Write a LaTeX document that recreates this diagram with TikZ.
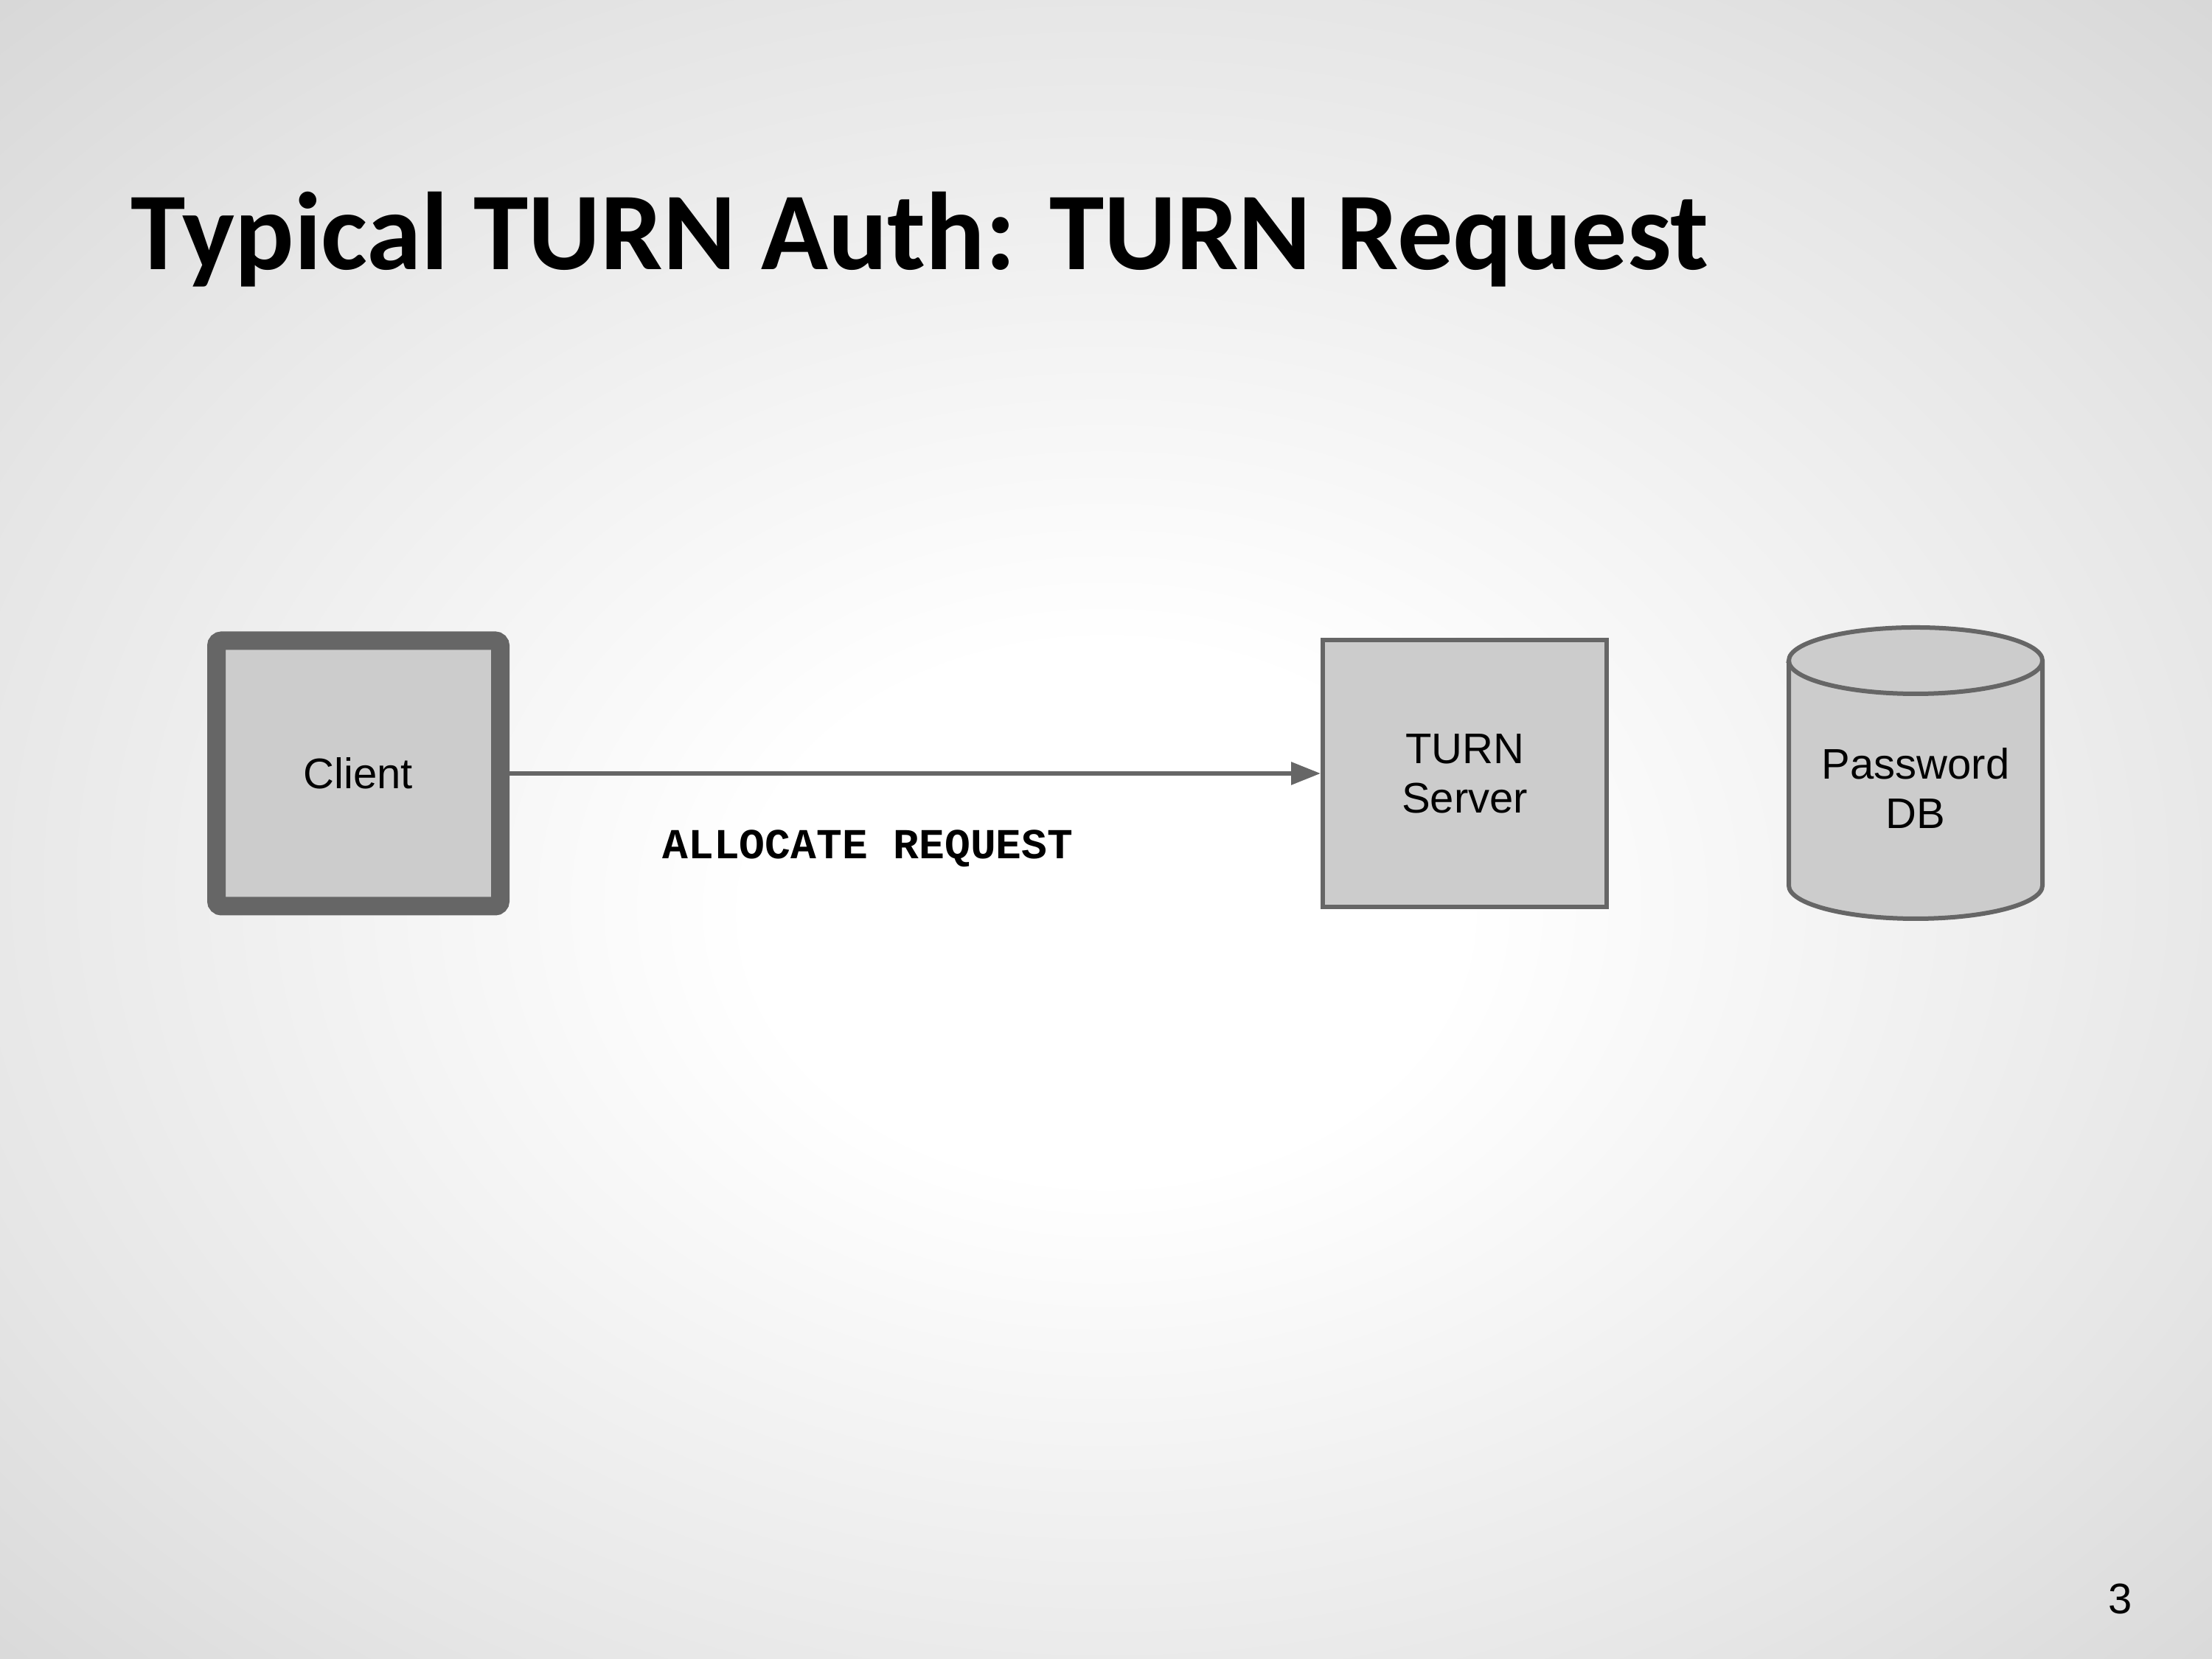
\documentclass[tikz,border=0pt]{standalone}
\usepackage{fontspec}
\setmainfont{Liberation Sans}
\newfontfamily\titlefont{Carlito}
\newfontfamily\codefont{Liberation Mono}
\usepackage{tikz}
\usetikzlibrary{positioning, arrows.meta}
\definecolor{boxfill}{HTML}{CCCCCC}
\definecolor{boxline}{HTML}{666666}
\pgfdeclareradialshading{slidebg}{\pgfpoint{0bp}{-3bp}}{color(0bp)=(white); color(8bp)=(white); color(27bp)=(black!10); color(37bp)=(black!16); color(50bp)=(black!20)}
\newcommand{\txt}{\fontsize{16.5}{19}\selectfont}

\begin{document}
\begin{tikzpicture}[
    box/.style={draw=boxline, fill=boxfill, minimum width=3.85cm, minimum height=3.6cm, align=center, font=\txt},
    dbline/.style={draw=boxline, line width=0.06cm, fill=boxfill},
    flow/.style={draw=boxline, line width=0.06cm, -{Triangle[length=0.4cm, width=0.3cm]}}
  ]
        % Fondo degradado
        \shade[shading=slidebg] (0,0) rectangle (30,22.5);
        \useasboundingbox (0,0) rectangle (30,22.5);
        % Titulo
        \node[anchor=base west, inner sep=0pt, font=\titlefont\bfseries\fontsize{42.7}{48}\selectfont] (title) at (1.77,18.84) {Typical TURN Auth: TURN Request};
        % Cliente (borde grueso)
        \node[box, line width=0.25cm, rounded corners=2pt] (client) at (4.86,12.01) {Client};
        % Servidor TURN
        \node[box, line width=0.06cm, minimum height=3.62cm] (server) at (19.865,12.01) {TURN\\Server};
        % Base de datos (cilindro)
        \draw[dbline] (24.26,13.54) -- (24.26,10.49) arc[start angle=180, end angle=360, x radius=1.72cm, y radius=0.45cm] -- (27.70,13.54) arc[start angle=0, end angle=180, x radius=1.72cm, y radius=0.45cm] -- cycle;
        \draw[dbline, fill=none] (24.26,13.54) arc[start angle=180, end angle=360, x radius=1.72cm, y radius=0.45cm];
        \node[align=center, font=\txt] (db) at (25.98,11.81) {Password\\DB};
        % Flecha cliente -> servidor
        \draw[flow] (client.east) -- (server.west);
        \node[anchor=base, font=\codefont\bfseries\txt] (alloc) at (11.77,10.85) {ALLOCATE REQUEST};
        % Numero de pagina
        \node[anchor=base, font=\txt] (pagenum) at (28.76,0.61) {3};
    \end{tikzpicture}
\end{document}
